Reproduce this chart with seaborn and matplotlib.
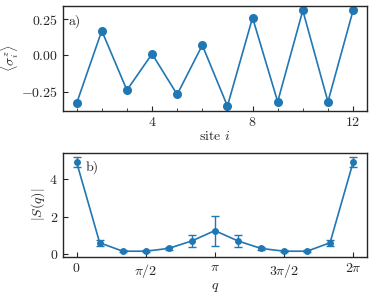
import numpy as np
import pandas as pd
import matplotlib
matplotlib.use("Agg")
import matplotlib.pyplot as plt
import seaborn as sns
from matplotlib.ticker import MultipleLocator, FixedLocator

sites = [1, 2, 3, 4, 5, 6, 7, 8, 9, 10, 11, 12]
sigma_z = [-0.33, 0.17, -0.24, 0.01, -0.27, 0.07, -0.35, 0.26, -0.32, 0.31, -0.32, 0.31]

k_index = [0, 1, 2, 3, 4, 5, 6, 7, 8, 9, 10, 11, 12]
S_q = [4.9, 0.6, 0.15, 0.15, 0.3, 0.7, 1.25, 0.7, 0.3, 0.15, 0.15, 0.6, 4.9]
S_err = [0.27, 0.15, 0.05, 0.05, 0.1, 0.33, 0.8, 0.33, 0.1, 0.05, 0.05, 0.15, 0.27]

q_tick_labels = [r"$0$", r"$\pi/2$", r"$\pi$", r"$3\pi/2$", r"$2\pi$"]

sns.set_style("ticks")
plt.rcParams["font.family"] = ["serif"]
plt.rcParams["font.serif"] = ["cmr10", "DejaVu Serif"]
plt.rcParams["mathtext.fontset"] = "cm"
plt.rcParams["axes.formatter.use_mathtext"] = True
plt.rcParams["font.size"] = 10
plt.rcParams["xtick.direction"] = "in"
plt.rcParams["ytick.direction"] = "in"

color = "#1f77b4"

fig = plt.figure(figsize=(3.74, 2.98), dpi=100)
ax1 = fig.add_axes([0.168, 0.628, 0.813, 0.353])
ax2 = fig.add_axes([0.168, 0.138, 0.813, 0.350])

df_a = pd.DataFrame({"site": sites, "sz": sigma_z})
sns.lineplot(data=df_a, x="site", y="sz", ax=ax1, color=color, marker="o",
             markersize=6.5, markeredgewidth=0, linewidth=1.2)
ax1.xaxis.set_major_locator(FixedLocator([4, 8, 12]))
ax1.xaxis.set_minor_locator(MultipleLocator(1))
ax1.set_yticks([-0.25, 0.0, 0.25])
ax1.set_xlabel(r"site $i$", labelpad=1)
ax1.set_ylabel(r"$\langle\sigma_i^z\rangle$", labelpad=0)
ax1.text(0.02, 0.82, "a)", transform=ax1.transAxes, fontsize=10)

q = [2 * np.pi * k / 12 for k in k_index]
df_b = pd.DataFrame({"q": q, "S": S_q})
ax2.errorbar(q, S_q, yerr=S_err, fmt="none", ecolor=color, capsize=3,
             elinewidth=1.0, capthick=1.0)
sns.lineplot(data=df_b, x="q", y="S", ax=ax2, color=color, marker="o",
             markersize=5, markeredgewidth=0, linewidth=1.2)
ax2.set_xticks([0, np.pi / 2, np.pi, 3 * np.pi / 2, 2 * np.pi])
ax2.set_xticklabels(q_tick_labels)
ax2.set_yticks([0, 2, 4])
ax2.set_xlabel(r"$q$", labelpad=1)
ax2.set_ylabel(r"$|S(q)|$", labelpad=2)
ax2.text(0.075, 0.83, "b)", transform=ax2.transAxes, fontsize=10)

for ax in (ax1, ax2):
    for s in ax.spines.values():
        s.set_linewidth(1.0)
    ax.tick_params(which="major", length=3.5, width=0.8)
    ax.tick_params(which="minor", length=2, width=0.6)

fig.savefig("out.png", dpi=100)
